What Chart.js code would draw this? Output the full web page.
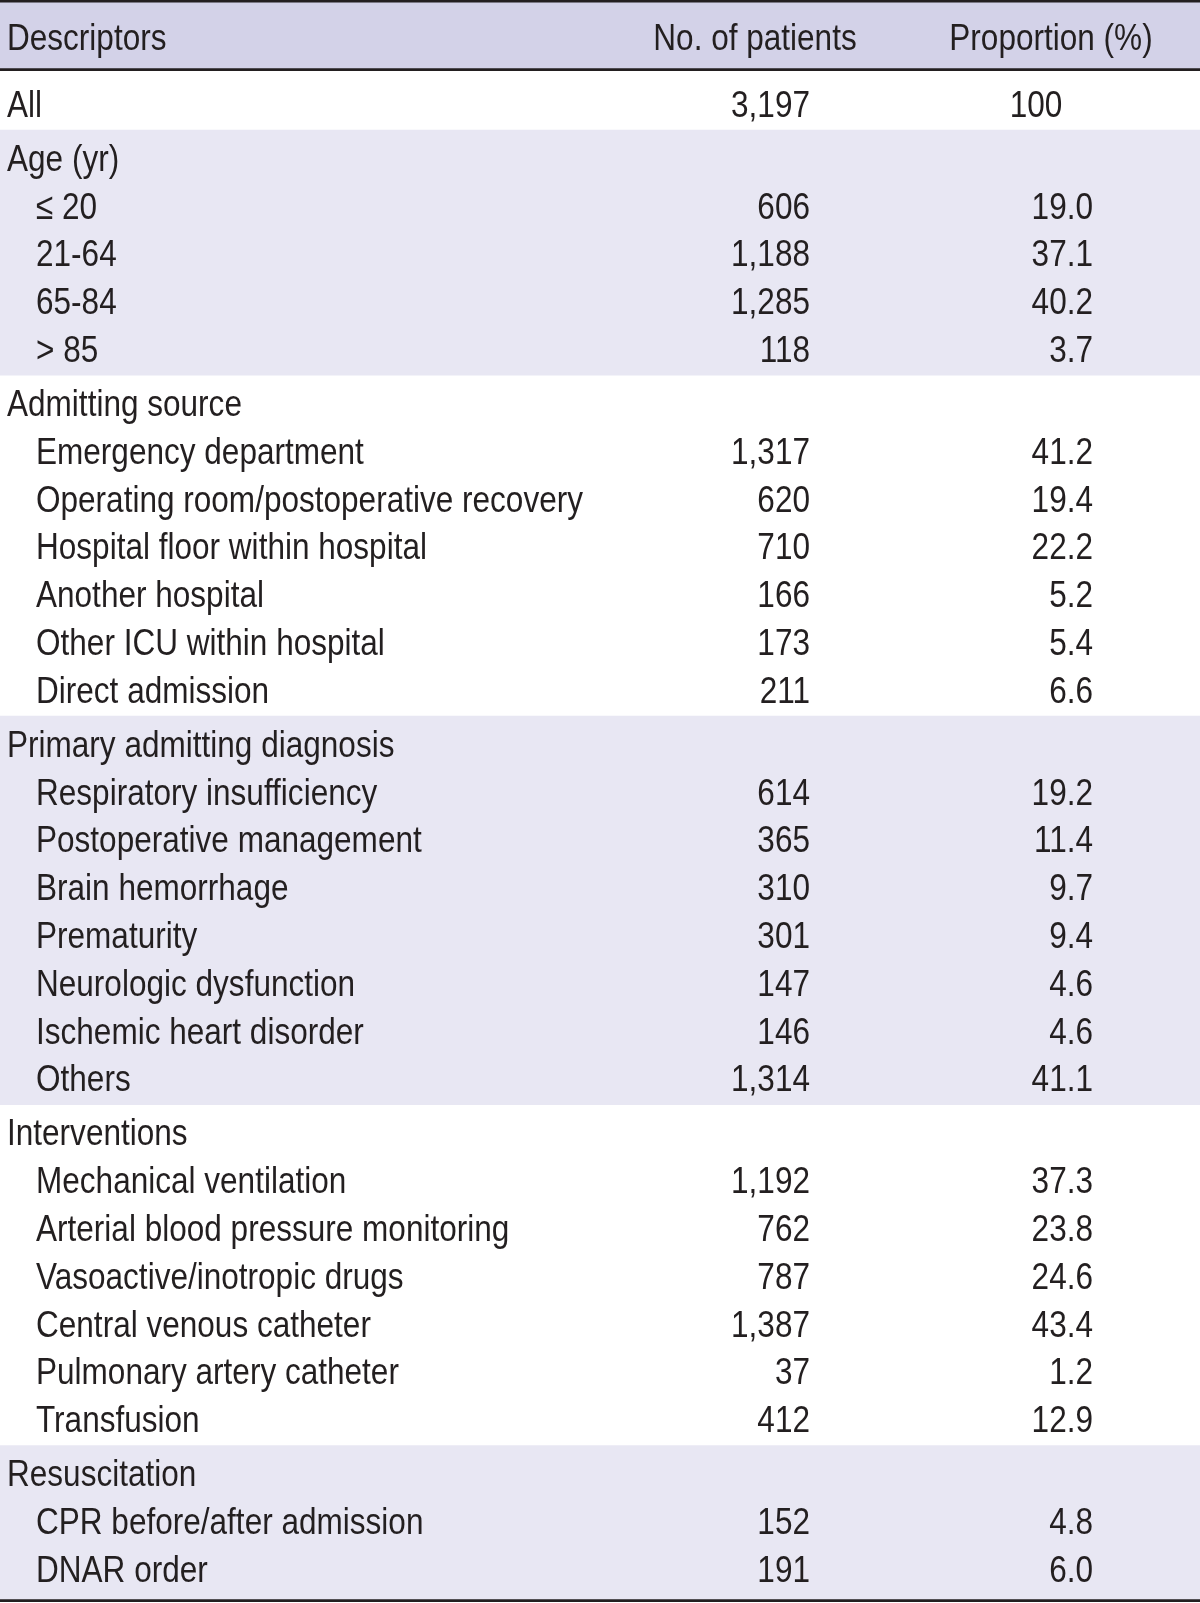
<!DOCTYPE html>
<html>
<head>
<meta charset="utf-8">
<title>Patient descriptors</title>
<script src="https://cdn.jsdelivr.net/npm/chart.js@4.4.1/dist/chart.umd.min.js"></script>
<style>
  html, body { margin: 0; padding: 0; background: #fff; }
</style>
</head>
<body>
<canvas id="chart" width="1200" height="1603"></canvas>
<script>
// ---- data ----
const headers = ["Descriptors", "No. of patients", "Proportion (%)"];

const allLabel = "All";
const allCount = 3197;
const allPct = 100;

const groupNames = ["Age (yr)", "Admitting source", "Primary admitting diagnosis", "Interventions", "Resuscitation"];

const ageLabels = ["≤ 20", "21-64", "65-84", "> 85"];
const ageCounts = [606, 1188, 1285, 118];
const agePct = [19.0, 37.1, 40.2, 3.7];

const sourceLabels = ["Emergency department", "Operating room/postoperative recovery", "Hospital floor within hospital",
  "Another hospital", "Other ICU within hospital", "Direct admission"];
const sourceCounts = [1317, 620, 710, 166, 173, 211];
const sourcePct = [41.2, 19.4, 22.2, 5.2, 5.4, 6.6];

const diagLabels = ["Respiratory insufficiency", "Postoperative management", "Brain hemorrhage", "Prematurity",
  "Neurologic dysfunction", "Ischemic heart disorder", "Others"];
const diagCounts = [614, 365, 310, 301, 147, 146, 1314];
const diagPct = [19.2, 11.4, 9.7, 9.4, 4.6, 4.6, 41.1];

const interLabels = ["Mechanical ventilation", "Arterial blood pressure monitoring", "Vasoactive/inotropic drugs",
  "Central venous catheter", "Pulmonary artery catheter", "Transfusion"];
const interCounts = [1192, 762, 787, 1387, 37, 412];
const interPct = [37.3, 23.8, 24.6, 43.4, 1.2, 12.9];

const resusLabels = ["CPR before/after admission", "DNAR order"];
const resusCounts = [152, 191];
const resusPct = [4.8, 6.0];

const groupLabels = [ageLabels, sourceLabels, diagLabels, interLabels, resusLabels];
const groupCounts = [ageCounts, sourceCounts, diagCounts, interCounts, resusCounts];
const groupPct = [agePct, sourcePct, diagPct, interPct, resusPct];

// ---- layout / style ----
const INK = "#231f20";
const HEAD_BG = "#d3d2e8";
const BAND_BG = "#e8e7f3";
const FONT = "37.5px 'Liberation Sans Narrow', 'Liberation Sans', sans-serif";
const squeezeRef = "Operating room/postoperative recovery";
const squeezeWidth = 547;
const groupGap = 0.13;    // extra space before each group, in rows
const headerPos = -1.40;  // header row, in rows above "All"
const edgePad = 0.71;
const bottomPad = 0.66;
const ruleW = 0.045;
const col = { label: 7, sub: 36, count: 810, pct: 1093, countHead: 755, pctHead: 1051, allPct: 1036 };

const fmtCount = n => n.toLocaleString("en-US");
const fmtPct = v => v.toFixed(1);

// rows: position on the y scale (in row units) and their cells
const rows = [];
rows.push({ pos: headerPos, cells: [
  { text: headers[0], x: col.label, align: "left" },
  { text: headers[1], x: col.countHead, align: "center" },
  { text: headers[2], x: col.pctHead, align: "center" }
]});
rows.push({ pos: 0, cells: [
  { text: allLabel, x: col.label, align: "left" },
  { text: fmtCount(allCount), x: col.count, align: "right" },
  { text: String(allPct), x: col.allPct, align: "center" }
]});

const bands = [];
let idx = 1;
groupNames.forEach((g, k) => {
  const start = idx + (k + 1) * groupGap;
  rows.push({ pos: start, cells: [{ text: g, x: col.label, align: "left" }] });
  groupLabels[k].forEach((lab, i) => {
    rows.push({ pos: start + i + 1, cells: [
      { text: lab, x: col.sub, align: "left" },
      { text: fmtCount(groupCounts[k][i]), x: col.count, align: "right" },
      { text: fmtPct(groupPct[k][i]), x: col.pct, align: "right" }
    ]});
  });
  const end = start + groupLabels[k].length;
  if (k % 2 === 0) bands.push({ start, end, color: BAND_BG, last: k === groupNames.length - 1 });
  idx += groupLabels[k].length + 1;
});

const lastPos = rows[rows.length - 1].pos;
const topEdge = headerPos - edgePad;
const bottomEdge = lastPos + bottomPad;
const headRule = (headerPos + 0) / 2;

const bandData = [{ x: "t", y: [topEdge, headRule] }];
const bandColors = [HEAD_BG];
bands.forEach(b => {
  const prevGap = (1 + groupGap) / 2;
  bandData.push({ x: "t", y: [b.start - prevGap, b.last ? bottomEdge : b.end + prevGap] });
  bandColors.push(b.color);
});

const ruleData = [
  { x: "t", y: [topEdge - ruleW, topEdge] },
  { x: "t", y: [headRule - ruleW / 2, headRule + ruleW / 2] },
  { x: "t", y: [bottomEdge, bottomEdge + ruleW] }
];

const pitch = 47.8;
const allPx = 103;

const tableText = {
  id: "tableText",
  afterDatasetsDraw(chart) {
    const ctx = chart.ctx;
    const ys = chart.scales.y;
    const xs = chart.scales.xt;
    ctx.save();
    ctx.font = FONT;
    ctx.fillStyle = INK;
    ctx.textBaseline = "alphabetic";
    const sx = squeezeWidth / ctx.measureText(squeezeRef).width;
    const shift = 37.5 * 0.365;
    rows.forEach(r => {
      const py = ys.getPixelForValue(r.pos) + shift;
      r.cells.forEach(c => {
        ctx.save();
        ctx.translate(xs.getPixelForValue(c.x), py);
        ctx.scale(sx, 1);
        ctx.textAlign = c.align;
        ctx.fillText(c.text, 0, 0);
        ctx.restore();
      });
    });
    ctx.restore();
  }
};

new Chart(document.getElementById("chart"), {
  type: "bar",
  data: {
    labels: ["t"],
    datasets: [
      { data: ruleData, backgroundColor: INK, grouped: false, order: 1, barPercentage: 1, categoryPercentage: 1, borderWidth: 0 },
      { data: bandData, backgroundColor: bandColors, grouped: false, order: 2, barPercentage: 1, categoryPercentage: 1, borderWidth: 0 }
    ]
  },
  options: {
    responsive: false,
    animation: false,
    devicePixelRatio: 1,
    layout: { padding: 0 },
    plugins: { legend: { display: false }, tooltip: { enabled: false } },
    scales: {
      x: { type: "category", display: false, offset: true },
      xt: { type: "linear", axis: "x", min: 0, max: 1200, display: false, offset: false, grid: { offset: false } },
      y: { type: "linear", display: false, reverse: true, min: -allPx / pitch, max: (1603 - allPx) / pitch }
    }
  },
  plugins: [tableText]
});
</script>
</body>
</html>
